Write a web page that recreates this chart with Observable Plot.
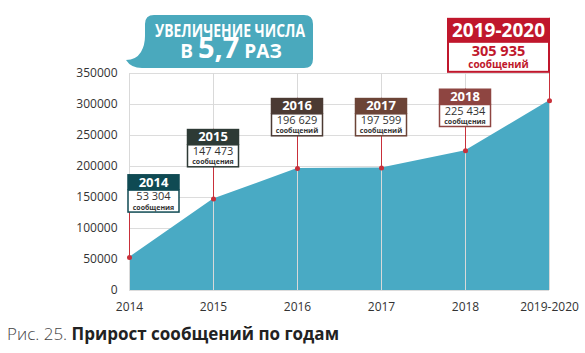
<!DOCTYPE html>
<html><head><meta charset="utf-8">
<script src="https://cdn.jsdelivr.net/npm/d3@7"></script>
<script src="https://cdn.jsdelivr.net/npm/@observablehq/plot@0.6"></script>
<style>
body{margin:0;background:#fff;font-family:"Open Sans",sans-serif;}
#wrap{position:relative;width:585px;height:353px;}
#caption{position:absolute;left:7px;top:323px;font-size:17px;line-height:22px;color:#333;white-space:nowrap;}
#caption .lite{font-weight:300;color:#444;}
#caption b{color:#222;}
</style></head><body>
<div id="wrap"><div id="chart"></div><div id="caption"><span class="lite">Рис. 25.</span> <b>Прирост сообщений по годам</b></div></div>
<script>
// ---- data ----
const years = ["2014", "2015", "2016", "2017", "2018", "2019-2020"];
const counts = [53304, 147473, 196629, 197599, 225434, 305935];
const countLabels = ["53 304", "147 473", "196 629", "197 599", "225 434", "305 935"];
const unitLabels = ["сообщения", "сообщения", "сообщений", "сообщений", "сообщения", "сообщений"];
const yTicks = [0, 50000, 100000, 150000, 200000, 250000, 300000, 350000];
const headline1 = "УВЕЛИЧЕНИЕ ЧИСЛА";
const headline2 = ["В ", "5,7", " РАЗ"];

// ---- layout / style ----
const boxColors = ["#0f4a53", "#2d3a35", "#4b3a33", "#6c4437", "#8e4541", "#c0172c"];
const labelTops = [187000, 260000, 310000, 310000, 325000, 439000]; // box top, in y units
const areaColor = "#49aac4";
const red = "#c8303a";

const data = years.map((year, i) => ({year, count: counts[i], top: labelTops[i]}));

const W = 585, H = 320, ML = 129, MR = 36, MT = 73, MB = 30;

const chart = Plot.plot({
  width: W, height: H, marginLeft: ML, marginRight: MR, marginTop: MT, marginBottom: MB,
  style: {fontFamily: "'Open Sans', sans-serif", fontSize: "12px", color: "#333", background: "transparent", overflow: "visible"},
  x: {type: "point", domain: years, padding: 0, label: null, tickSize: 0, tickPadding: 12},
  y: {domain: [0, 350000], ticks: yTicks, tickFormat: d3.format("d"), label: null, tickSize: 0, tickPadding: 12},
  marks: [
    Plot.ruleY(yTicks, {stroke: "#dcdcdc", strokeWidth: 1}),
    Plot.areaY(data, {x: "year", y: "count", fill: areaColor}),
    Plot.ruleX(years, {stroke: "#d9d9d9", strokeWidth: 1}),
    Plot.ruleX(data, {x: "year", y1: "count", y2: "top", stroke: red, strokeWidth: 1}),
    Plot.dot(data, {x: "year", y: "count", r: 2.5, fill: red})
  ]
});
document.getElementById("chart").appendChild(chart);

const sx = chart.scale("x"), sy = chart.scale("y");
const svg = d3.select(chart);
const g = svg.append("g").attr("font-family", "'Open Sans', sans-serif");

data.forEach((d, i) => {
  const big = i === data.length - 1;
  const w = big ? 101 : 51, hh = big ? 24 : 16, bh = big ? 30 : 22;
  const cx = sx.apply(d.year);
  const top = sy.apply(d.top);
  let x0 = cx - w / 2;
  x0 = Math.max(x0, ML - 1);
  x0 = Math.min(x0, W - MR - w);
  const mid = x0 + w / 2;
  const col = boxColors[i];
  g.append("rect").attr("x", x0).attr("y", top + hh).attr("width", w).attr("height", bh)
    .attr("fill", "#fff").attr("stroke", col).attr("stroke-width", big ? 2 : 1.5);
  g.append("rect").attr("x", x0 - (big ? 1 : 0.75)).attr("y", top).attr("width", w + (big ? 2 : 1.5)).attr("height", hh)
    .attr("fill", col);
  g.append("text").attr("x", mid).attr("y", top + (big ? 19 : 12.5)).attr("text-anchor", "middle")
    .attr("fill", "#fff").attr("font-weight", 700).attr("font-size", big ? 19 : 13).text(d.year);
  g.append("text").attr("x", mid).attr("y", top + hh + (big ? 14.5 : 10)).attr("text-anchor", "middle")
    .attr("fill", big ? col : "#333").attr("font-weight", big ? 700 : 400).attr("font-size", big ? 14.5 : 11)
    .text(countLabels[i]);
  g.append("text").attr("x", mid).attr("y", top + hh + (big ? 26 : 19.5)).attr("text-anchor", "middle")
    .attr("fill", big ? col : "#333").attr("font-weight", 700).attr("font-size", big ? 10 : 7)
    .text(unitLabels[i]);
});

// speech bubble
const bub = svg.append("g");
bub.append("path").attr("fill", "#4aa9bd")
  .attr("d", "M154 15 H304 Q313 15 313 24 V59 Q313 68 304 68 H142 Q131 68 126 60 Q136 60 141 52 Q145 45 145 36 V24 Q145 15 154 15 Z");
bub.append("text").attr("x", 230).attr("y", 37).attr("text-anchor", "middle").attr("fill", "#fff")
  .attr("font-family", "'Open Sans', sans-serif").attr("font-weight", 700).attr("font-size", 18)
  .attr("textLength", 150).attr("lengthAdjust", "spacingAndGlyphs").text(headline1);
const t2 = bub.append("text").attr("x", 231).attr("y", 58).attr("text-anchor", "middle").attr("fill", "#fff")
  .attr("font-family", "'Open Sans', sans-serif").attr("font-weight", 700);
t2.append("tspan").attr("font-size", 19).text(headline2[0]);
t2.append("tspan").attr("font-size", 29).text(headline2[1]);
t2.append("tspan").attr("font-size", 19).text(headline2[2]);
</script>
</body></html>
